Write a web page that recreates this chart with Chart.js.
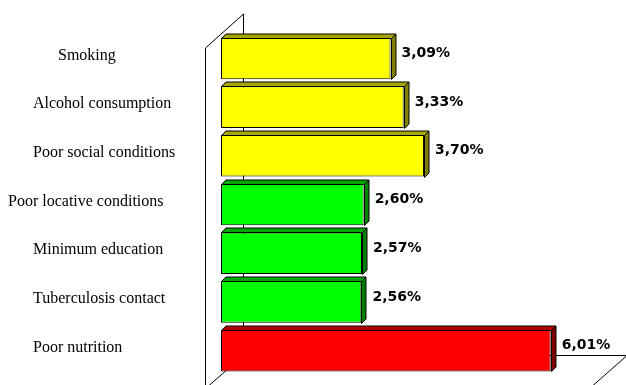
<!DOCTYPE html>
<html>
<head>
<meta charset="utf-8">
<script src="https://cdn.jsdelivr.net/npm/chart.js@4/dist/chart.umd.min.js"></script>
<style>
  html, body { margin: 0; padding: 0; background: #fff; }
  #wrap { width: 626px; height: 385px; }
</style>
</head>
<body>
<div id="wrap"><canvas id="chart" width="626" height="385"></canvas></div>
<script>
const factors = [
  "Smoking",
  "Alcohol consumption",
  "Poor social conditions",
  "Poor locative conditions",
  "Minimum education",
  "Tuberculosis contact",
  "Poor nutrition",
];
const percentages = [3.09, 3.33, 3.7, 2.6, 2.57, 2.56, 6.01];
const axisMax = 7;

// front face / shaded side colours per bar
const faceColors = ["#ffff00", "#ffff00", "#ffff00", "#00ff00", "#00ff00", "#00ff00", "#ff0000"];
const topColors = ["#a6a600", "#a6a600", "#a6a600", "#00a600", "#00a600", "#00a600", "#b00000"];
const sideColors = ["#808000", "#808000", "#808000", "#008000", "#008000", "#008000", "#800000"];

// label indent from the left edge, most labels sit at 33px
const labelLeft = { 0: 58, 3: 8 };

const depth = 4.5;

// back wall + floor outline drawn behind the bars
const wallsPlugin = {
  id: "walls",
  beforeDatasetsDraw(chart) {
    const { ctx, chartArea: a } = chart;
    const back = { dx: 22, dy: -20 };
    const front = { dx: -16, dy: 14 };
    ctx.save();
    ctx.strokeStyle = "#000";
    ctx.lineWidth = 1;
    ctx.beginPath();
    // left side wall
    ctx.moveTo(a.left + front.dx + 0.5, chart.height + 5);
    ctx.lineTo(a.left + front.dx + 0.5, a.top + front.dy);
    ctx.lineTo(a.left + back.dx + 0.5, a.top + back.dy);
    ctx.lineTo(a.left + back.dx + 0.5, a.bottom + back.dy + 0.5);
    // floor
    ctx.lineTo(a.right + back.dx, a.bottom + back.dy + 0.5);
    ctx.lineTo(a.right + front.dx, a.bottom + front.dy);
    ctx.moveTo(a.left + back.dx + 0.5, a.bottom + back.dy + 0.5);
    ctx.lineTo(a.left + front.dx, a.bottom + front.dy);
    ctx.stroke();
    ctx.restore();
  },
};

// extruded top/side faces, value labels and category labels
const barsPlugin = {
  id: "bars3d",
  afterDatasetsDraw(chart) {
    const { ctx } = chart;
    const meta = chart.getDatasetMeta(0);
    ctx.save();
    ctx.strokeStyle = "#000";
    ctx.lineWidth = 1;
    meta.data.forEach((bar, i) => {
      const x0 = Math.round(bar.base) + 0.5;
      const x1 = Math.round(bar.x) + 0.5;
      const yT = Math.round(bar.y - bar.height / 2) + 0.5;
      const yB = Math.round(bar.y + bar.height / 2) + 0.5;

      ctx.beginPath();
      ctx.moveTo(x0, yT);
      ctx.lineTo(x0 + depth, yT - depth);
      ctx.lineTo(x1 + depth, yT - depth);
      ctx.lineTo(x1, yT);
      ctx.closePath();
      ctx.fillStyle = topColors[i];
      ctx.fill();
      ctx.stroke();

      ctx.beginPath();
      ctx.moveTo(x1, yT);
      ctx.lineTo(x1 + depth, yT - depth);
      ctx.lineTo(x1 + depth, yB - depth);
      ctx.lineTo(x1, yB);
      ctx.closePath();
      ctx.fillStyle = sideColors[i];
      ctx.fill();
      ctx.stroke();

      ctx.fillStyle = "#000";
      ctx.font = "bold 14px 'DejaVu Sans', Verdana, sans-serif";
      ctx.textAlign = "left";
      ctx.textBaseline = "middle";
      const txt = percentages[i].toFixed(2).replace(".", ",") + "%";
      ctx.fillText(txt, bar.x + 11, bar.y - 5);
    });

    const yScale = chart.scales.y;
    ctx.font = "16px 'Liberation Serif', 'Times New Roman', serif";
    ctx.textBaseline = "middle";
    factors.forEach((name, i) => {
      const y = yScale.getPixelForValue(i) - 3;
      const x = labelLeft[i] !== undefined ? labelLeft[i] : 33;
      ctx.fillText(name, x, y);
    });
    ctx.restore();
  },
};

new Chart(document.getElementById("chart").getContext("2d"), {
  type: "bar",
  data: {
    labels: factors,
    datasets: [
      {
        data: percentages,
        backgroundColor: faceColors,
        borderColor: "#000",
        borderWidth: 1,
        borderSkipped: false,
        barPercentage: 0.855,
        categoryPercentage: 1,
      },
    ],
  },
  options: {
    indexAxis: "y",
    responsive: false,
    animation: false,
    layout: { padding: { left: 221, right: 21, top: 34, bottom: 10 } },
    plugins: {
      legend: { display: false },
      tooltip: { enabled: false },
    },
    scales: {
      x: { display: false, min: 0, max: axisMax },
      y: { display: false },
    },
  },
  plugins: [wallsPlugin, barsPlugin],
});
</script>
</body>
</html>
